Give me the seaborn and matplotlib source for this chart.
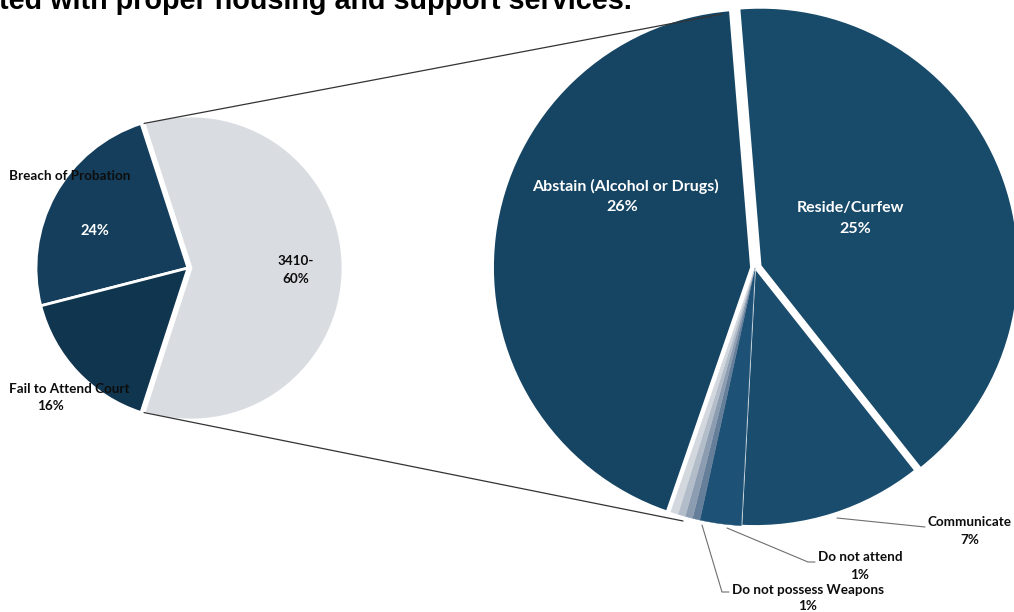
import math
import matplotlib
matplotlib.use("Agg")
import matplotlib.pyplot as plt
import seaborn as sns

sns.set_theme(style="white")
plt.rcParams['font.family'] = ['Lato', 'DejaVu Sans']

# ---------------- data ----------------
title_text = "ted with proper housing and support services."

primary_names = ["3410", "Breach of Probation", "Fail to Attend Court"]
primary_values = [60, 24, 16]
primary_pct = ["60%", "24%", "16%"]
primary_colors = ["#d9dce0", "#143e5b", "#10354e"]

secondary_names = ["Reside/Curfew", "Communicate", "Do not attend",
                   "Do not possess Weapons", "Other 1", "Other 2", "Other 3",
                   "Abstain (Alcohol or Drugs)"]
secondary_values = [24.4, 6.9, 1.55, 0.28, 0.28, 0.28, 0.28, 26.05]
secondary_pct = ["25%", "7%", "1%", "1%", "", "", "", "26%"]
secondary_colors = ["#184a6a", "#1a4c6d", "#1d5175", "#657f9b", "#8d9db1",
                    "#b3bdc9", "#d3d8de", "#164564"]

# ---------------- figure ----------------
W, H = 1014, 612
fig = plt.figure(figsize=(W / 100, H / 100), dpi=100)
ax = fig.add_axes([0, 0, 1, 1])


def Y(y):
    return H - y


# primary pie
p_center = (188, Y(268))
p_r = 152
p_start = -108
p_explode = [3, 0, 0]
ax.pie(primary_values, colors=primary_colors, startangle=p_start,
       counterclock=True, center=p_center, radius=p_r, explode=p_explode,
       wedgeprops=dict(edgecolor="white", linewidth=2), frame=True)

# secondary pie
s_center = (755, Y(268))
s_r = 258
s_start = 94.7
s_explode = [6, 0, 0, 0, 0, 0, 0, 4]
wedges, _ = ax.pie(secondary_values, colors=secondary_colors, startangle=s_start,
                   counterclock=False, center=s_center, radius=s_r,
                   explode=s_explode,
                   wedgeprops=dict(edgecolor="white", linewidth=1.3), frame=True)
for w, c, v in zip(wedges, secondary_colors, secondary_values):
    if v < 1:
        w.set_edgecolor(c)
        w.set_linewidth(0.3)
wedges[2].set_edgecolor(secondary_colors[2])
wedges[2].set_linewidth(0.3)

# connector lines (from the "other" slice of the primary to the secondary)
half = 360 * primary_values[0] / sum(primary_values) / 2
gx = p_center[0] + p_explode[0]
top_pt = (gx + p_r * math.cos(math.radians(half)),
          p_center[1] + p_r * math.sin(math.radians(half)))
bot_pt = (gx + p_r * math.cos(math.radians(-half)),
          p_center[1] + p_r * math.sin(math.radians(-half)))
ax.plot([top_pt[0], 722], [top_pt[1], Y(14)], color="#333333", lw=0.9)
ax.plot([bot_pt[0], 683], [bot_pt[1], Y(521)], color="#333333", lw=0.9)

# leader lines
lc = "#6f6f6f"
ax.plot([837, 925], [Y(518), Y(527)], color=lc, lw=0.8)
ax.plot([727, 808, 815], [Y(528), Y(562), Y(562)], color=lc, lw=0.8)
ax.plot([702, 722, 729], [Y(525), Y(592), Y(592)], color=lc, lw=0.8)

# labels
dark = "#0d0d0d"
fs_out = 9.7
fs_in = 11.5
lab = dict(fontweight="bold", ha="center", va="center")
ax.text(70, Y(176), primary_names[1], color=dark, fontsize=fs_out, **lab)
ax.text(95, Y(231), primary_pct[1], color="white", fontsize=10.5, **lab)
ax.text(69, Y(389), primary_names[2], color=dark, fontsize=fs_out, **lab)
ax.text(50, Y(406), primary_pct[2], color=dark, fontsize=fs_out, **lab)
ax.text(296, Y(261), primary_names[0] + "-", color=dark, fontsize=fs_out, **lab)
ax.text(296, Y(279), primary_pct[0], color=dark, fontsize=fs_out, **lab)

ax.text(625, Y(186), secondary_names[7], color="white", fontsize=fs_in, **lab)
ax.text(622, Y(207), secondary_pct[7], color="white", fontsize=fs_in, **lab)
ax.text(851, Y(208), secondary_names[0], color="white", fontsize=fs_in, **lab)
ax.text(855, Y(229), secondary_pct[0], color="white", fontsize=fs_in, **lab)

ax.text(970, Y(522), secondary_names[1], color=dark, fontsize=fs_out, **lab)
ax.text(970, Y(540), secondary_pct[1], color=dark, fontsize=fs_out, **lab)
ax.text(860, Y(557), secondary_names[2], color=dark, fontsize=fs_out, **lab)
ax.text(860, Y(575), secondary_pct[2], color=dark, fontsize=fs_out, **lab)
ax.text(808, Y(590), secondary_names[3], color=dark, fontsize=fs_out, **lab)
ax.text(808, Y(606), secondary_pct[3], color=dark, fontsize=fs_out, **lab)

# cropped title text at the very top
ax.text(-1, Y(9), title_text, family=["Liberation Sans", "DejaVu Sans"],
        fontweight="bold", fontsize=20.7, color="black",
        ha="left", va="baseline")

ax.set_xlim(0, W)
ax.set_ylim(0, H)
ax.set_aspect("equal")
ax.axis("off")

fig.savefig("out.png", dpi=100)
